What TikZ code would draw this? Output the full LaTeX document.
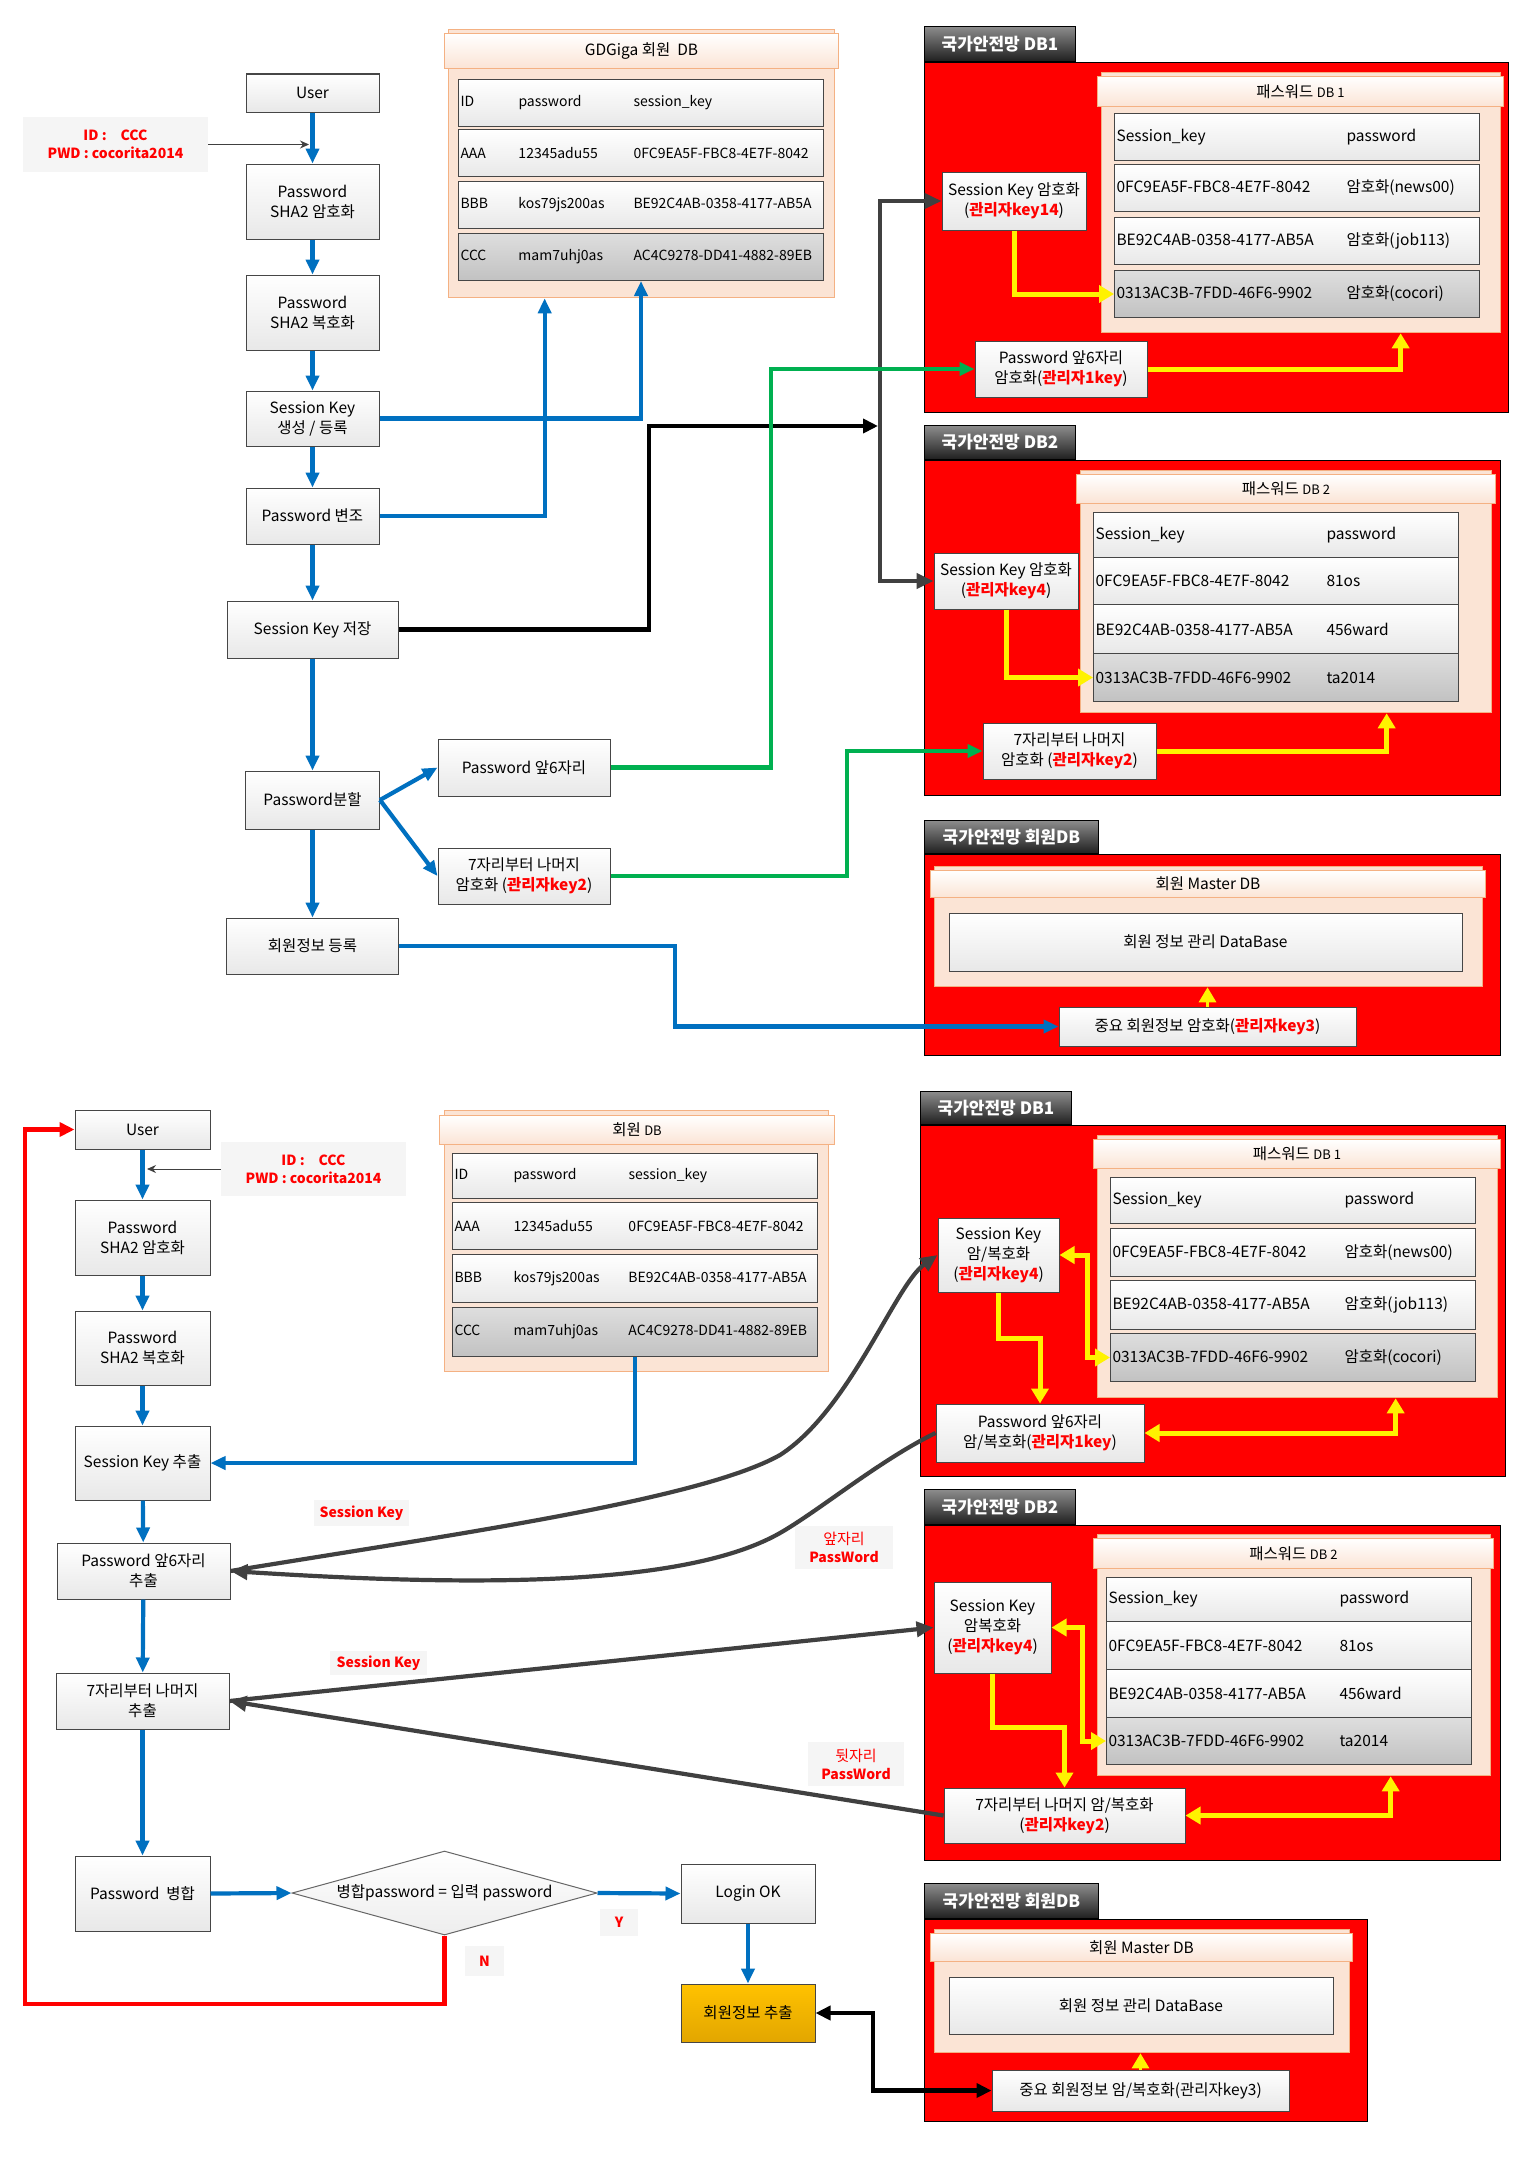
\documentclass[tikz,border=0pt]{standalone}
\usepackage{fontspec}
\setmainfont{Noto Sans CJK KR}
\usepackage{xcolor}
\usetikzlibrary{arrows.meta,shapes.geometric,positioning,calc}

\definecolor{flowblue}{RGB}{0,112,192}
\definecolor{flowgreen}{RGB}{0,176,80}
\definecolor{darkline}{RGB}{64,64,64}
\definecolor{boxline}{RGB}{70,70,70}
\definecolor{peach}{RGB}{251,228,213}
\definecolor{peachline}{RGB}{244,177,131}
\definecolor{goldtop}{RGB}{255,194,0}
\definecolor{goldbot}{RGB}{226,166,0}

\newcommand{\adm}[1]{{\color{red}\bfseries #1}}

\begin{document}
\begin{tikzpicture}[x=1pt, y=-1pt,
    every node/.style={font=\fontsize{15.5}{20}\selectfont, inner sep=2pt},
    flow/.style={draw=boxline, line width=1pt, top color=white, bottom color=black!9, align=center},
    row/.style={flow, anchor=north west, align=left},
    grayrow/.style={row, top color=black!13, bottom color=black!24},
    smallrow/.style={font=\fontsize{14}{18}\selectfont},
    dbbody/.style={draw=peachline, line width=1.3pt, fill=peach, anchor=north west},
    dbhead/.style={draw=peachline, line width=1pt, top color=white, bottom color=peach, anchor=north west},
    redbox/.style={draw=black, line width=1.3pt, fill=red, anchor=north west},
    tab/.style={draw=black, line width=1pt, top color=black!45, bottom color=black!88, text=white,
        font=\fontsize{17}{20}\selectfont\bfseries, anchor=south west},
    note/.style={fill=black!4, text=red, font=\fontsize{14}{18}\selectfont\bfseries, align=center},
    cmpbox/.style={diamond, draw=black!60, line width=1pt, top color=white, bottom color=black!7,
        aspect=3.6, inner sep=1pt},
    bluearrow/.style={draw=flowblue, line width=4.2pt, >={Triangle[length=15pt,width=13pt]}},
    greenarrow/.style={draw=flowgreen, line width=4.2pt, >={Triangle[length=15pt,width=13pt]}},
    yellowarrow/.style={draw=yellow, line width=5pt, >={Triangle[length=15pt,width=17pt]}},
    blackarrow/.style={draw=black, line width=4.5pt, >={Triangle[length=15pt,width=14pt]}},
    grayarrow/.style={draw=darkline, line width=4.2pt, >={Triangle[length=17pt,width=15pt]}},
    redarrow/.style={draw=red, line width=4.5pt, >={Triangle[length=15pt,width=14pt]}},
    thinarrow/.style={draw=darkline, line width=1pt, >={Stealth[length=9pt,width=8pt]}}
]
    \fill[white] (0,0) rectangle (1534,2157);
    \useasboundingbox (0,0) rectangle (1534,2157);

    % ---------- upper flow ----------
    \node[flow, minimum width=133, minimum height=38] (user1) at (312.5,93) {User};
    \node[note, minimum width=185, minimum height=55] (id1) at (115.5,144.5) {ID :\hspace{14pt}CCC\\PWD : cocorita2014};
    \node[flow, minimum width=133, minimum height=75] (enc1) at (312.5,201.5) {Password\\SHA2 암호화};
    \node[flow, minimum width=133, minimum height=75] (dec1) at (312.5,312.5) {Password\\SHA2 복호화};
    \node[flow, minimum width=133, minimum height=55] (skgen) at (312.5,418.5) {Session Key\\생성 / 등록};
    \node[flow, minimum width=133, minimum height=56] (pwmod) at (312.5,516) {Password 변조};
    \node[flow, minimum width=171, minimum height=57] (sksave) at (312.5,629.5) {Session Key 저장};
    \node[flow, minimum width=134, minimum height=58] (pwsplit) at (312.5,800) {Password분할};
    \node[flow, minimum width=172, minimum height=57] (pwfront) at (524,767.5) {Password 앞6자리};
    \node[flow, minimum width=172, minimum height=56] (pwrest) at (524,876) {7자리부터 나머지\\암호화 (\adm{관리자key2})};
    \node[flow, minimum width=172, minimum height=56] (memreg) at (312.5,946) {회원정보 등록};

    % GDGiga member DB
    \node[dbbody, minimum width=386, minimum height=268] (gdb) at (448,29) {};
    \node[dbhead, minimum width=394, minimum height=35] (gdbh) at (444,33) {GDGiga 회원\ \ DB};
    \foreach \n/\t/\st/\a/\b/\c in {1/79/row/ID/password/session\_key,
        2/129/row/AAA/12345adu55/0FC9EA5F-FBC8-4E7F-8042,
        3/181/row/BBB/kos79js200as/BE92C4AB-0358-4177-AB5A,
        4/233/grayrow/CCC/mam7uhj0as/AC4C9278-DD41-4882-89EB}
        \node[\st, smallrow, minimum width=365, minimum height=47, text width=361] (g\n) at (458,\t)
            {\makebox[58pt][l]{\a}\makebox[115pt][l]{\b}\mbox{\c}};

    % DB1 (upper)
    \node[redbox, minimum width=584, minimum height=350] (net1) at (924,62) {};
    \node[tab, minimum width=151, minimum height=35] (net1t) at (924,62) {국가안전망 DB1};
    \node[dbbody, minimum width=399, minimum height=260] (pdb1) at (1101,72) {};
    \node[dbhead, minimum width=406, minimum height=30] (pdb1h) at (1097,76) {패스워드 {\fontsize{13}{15}\selectfont DB 1}};
    \foreach \n/\t/\st/\a/\b in {1/113/row/Session\_key/password,
        2/164/row/0FC9EA5F-FBC8-4E7F-8042/암호화(news00),
        3/217/row/BE92C4AB-0358-4177-AB5A/암호화(job113),
        4/270/grayrow/0313AC3B-7FDD-46F6-9902/암호화(cocori)}
        \node[\st, minimum width=365, minimum height=47, text width=361] (p1r\n) at (1114,\t)
            {\makebox[230pt][l]{\a}\b};
    \node[flow, minimum width=144, minimum height=58] (skenc1) at (1014,201) {Session Key 암호화\\(\adm{관리자key14})};
    \node[flow, minimum width=172, minimum height=56] (pwenc1) at (1061,369) {Password 앞6자리\\암호화(\adm{관리자1key})};

    % DB2 (upper)
    \node[redbox, minimum width=576, minimum height=335] (net2) at (924,460) {};
    \node[tab, minimum width=151, minimum height=34] (net2t) at (924,460) {국가안전망 DB2};
    \node[dbbody, minimum width=411, minimum height=242] (pdb2) at (1080,470) {};
    \node[dbhead, minimum width=419, minimum height=29] (pdb2h) at (1076,474) {패스워드 {\fontsize{13}{15}\selectfont DB 2}};
    \foreach \n/\t/\h/\st/\a/\b in {1/512/45/row/Session\_key/password,
        2/557/47/row/0FC9EA5F-FBC8-4E7F-8042/81os,
        3/604/49/row/BE92C4AB-0358-4177-AB5A/456ward,
        4/653/48/grayrow/0313AC3B-7FDD-46F6-9902/ta2014}
        \node[\st, minimum width=365, minimum height=\h, text width=361] (p2r\n) at (1093,\t)
            {\makebox[231pt][l]{\a}\b};
    \node[flow, minimum width=144, minimum height=56] (skenc2) at (1006,581) {Session Key 암호화\\(\adm{관리자key4})};
    \node[flow, minimum width=173, minimum height=56] (pwenc2) at (1069.5,751) {7자리부터 나머지\\암호화 (\adm{관리자key2})};

    % member DB (upper)
    \node[redbox, minimum width=576, minimum height=201] (net3) at (924,854) {};
    \node[tab, minimum width=174, minimum height=33] (net3t) at (924,854) {국가안전망 회원DB};
    \node[dbbody, minimum width=548, minimum height=120] (mdb1) at (934,866) {};
    \node[dbhead, minimum width=555, minimum height=27] (mdb1h) at (930,870) {회원 Master DB};
    \node[flow, minimum width=513, minimum height=58] (mdata1) at (1205.5,942) {회원 정보 관리 DataBase};
    \node[flow, minimum width=297, minimum height=39] (key3a) at (1207.5,1026.5) {중요 회원정보 암호화(\adm{관리자key3})};

    % upper connectors
    \foreach \a/\b in {user1/enc1, enc1/dec1, dec1/skgen, skgen/pwmod, pwmod/sksave, sksave/pwsplit, pwsplit/memreg}
        \draw[bluearrow,->] (\a) -- (\b);
    \coordinate (in1) at (309,144.5);
    \draw[thinarrow,->] (id1.east) -- (in1);
    \draw[bluearrow,->] (skgen.east) -| (g4.south);
    \draw[bluearrow,->] (pwmod.east) -| ([xshift=-97pt]gdb.south);
    \draw[bluearrow,->] (pwsplit.east) -- (pwfront.west);
    \draw[bluearrow,->] (pwsplit.east) -- (pwrest.west);
    \draw[bluearrow,->] (memreg.east) -- (675,946) |- (key3a.west);
    \coordinate (brk) at (878,426);
    \draw[grayarrow,<->] (skenc1.west) -| (880,400) |- (skenc2.west);
    \draw[blackarrow,->] (sksave.east) -- (649,629.5) |- (brk);
    \draw[greenarrow,->] (pwfront.east) -- (771,767.5) |- (pwenc1.west);
    \draw[greenarrow,->] (pwrest.east) -- (847,876) |- (pwenc2.west);
    \draw[yellowarrow,->] (skenc1.south) |- (p1r4.west);
    \draw[yellowarrow,->] (pwenc1.east) -| ([xshift=99.5pt]pdb1.south);
    \draw[yellowarrow,->] (skenc2.south) |- (p2r4.west);
    \draw[yellowarrow,->] (pwenc2.east) -| ([xshift=100.5pt]pdb2.south);
    \draw[yellowarrow,->,line width=3pt] (key3a.north) -- (key3a.north |- mdb1.south);

    % ---------- lower flow ----------
    \node[flow, minimum width=135, minimum height=39] (user2) at (142.5,1129.5) {User};
    \node[note, minimum width=185, minimum height=54] (id2) at (313.5,1169) {ID :\hspace{14pt}CCC\\PWD : cocorita2014};
    \node[flow, minimum width=135, minimum height=75] (enc2) at (142.5,1237.5) {Password\\SHA2 암호화};
    \node[flow, minimum width=135, minimum height=74] (dec2) at (142.5,1348) {Password\\SHA2 복호화};
    \node[flow, minimum width=135, minimum height=74] (skext) at (142.5,1463) {Session Key 추출};
    \node[flow, minimum width=173, minimum height=56] (frontext) at (143.5,1571) {Password 앞6자리\\추출};
    \node[flow, minimum width=173, minimum height=56] (restext) at (142.5,1701) {7자리부터 나머지\\추출};
    \node[flow, minimum width=135, minimum height=75] (merge) at (142.5,1893.5) {Password\ \ 병합};
    \node[cmpbox, minimum width=305, minimum height=84] (cmp) at (444.5,1893) {병합password = 입력 password};
    \node[flow, minimum width=134, minimum height=59] (login) at (748,1893.5) {Login OK};
    \node[flow, top color=goldtop, bottom color=goldbot, minimum width=134, minimum height=58] (memext) at (748,2013) {회원정보 추출};
    \node[note, minimum width=38, minimum height=27] (yes) at (619,1922.5) {Y};
    \node[note, minimum width=39, minimum height=30] (no) at (484.5,1961) {N};
    \node[note, minimum width=95, minimum height=26] (sklab1) at (361.5,1513) {Session Key};
    \node[note, minimum width=98, minimum height=43] (frontlab) at (844,1547.5) {{\mdseries\fontsize{15}{18}\selectfont 앞자리}\\PassWord};
    \node[note, minimum width=97, minimum height=24] (sklab2) at (378.5,1663) {Session Key};
    \node[note, minimum width=96, minimum height=44] (restlab) at (856,1764) {{\mdseries\fontsize{15}{18}\selectfont 뒷자리}\\PassWord};

    % member DB (lower)
    \node[dbbody, minimum width=384, minimum height=261] (mdb) at (444,1110) {};
    \node[dbhead, minimum width=395, minimum height=29] (mdbh) at (439,1115) {회원 {\fontsize{13}{15}\selectfont DB}};
    \foreach \n/\t/\h/\st/\a/\b/\c in {1/1153/45/row/ID/password/session\_key,
        2/1202/47/row/AAA/12345adu55/0FC9EA5F-FBC8-4E7F-8042,
        3/1254/48/row/BBB/kos79js200as/BE92C4AB-0358-4177-AB5A,
        4/1307/49/grayrow/CCC/mam7uhj0as/AC4C9278-DD41-4882-89EB}
        \node[\st, smallrow, minimum width=365, minimum height=\h, text width=361] (m\n) at (452,\t)
            {\makebox[59pt][l]{\a}\makebox[115pt][l]{\b}\mbox{\c}};

    % DB1 (lower)
    \node[redbox, minimum width=585, minimum height=351] (net4) at (920,1125) {};
    \node[tab, minimum width=151, minimum height=33] (net4t) at (920,1125) {국가안전망 DB1};
    \node[dbbody, minimum width=400, minimum height=262] (pdb3) at (1097,1135) {};
    \node[dbhead, minimum width=407, minimum height=29] (pdb3h) at (1093,1139) {패스워드 {\fontsize{13}{15}\selectfont DB 1}};
    \foreach \n/\t/\h/\st/\a/\b in {1/1177/46/row/Session\_key/password,
        2/1228/48/row/0FC9EA5F-FBC8-4E7F-8042/암호화(news00),
        3/1280/49/row/BE92C4AB-0358-4177-AB5A/암호화(job113),
        4/1333/48/grayrow/0313AC3B-7FDD-46F6-9902/암호화(cocori)}
        \node[\st, minimum width=365, minimum height=\h, text width=361] (b1r\n) at (1110,\t)
            {\makebox[232pt][l]{\a}\b};
    \node[flow, minimum width=121, minimum height=74] (skcrypt1) at (998.5,1255) {Session Key\\암/복호화\\(\adm{관리자key4})};
    \node[flow, minimum width=208, minimum height=58] (pwcrypt1) at (1040,1433) {Password 앞6자리\\암/복호화(\adm{관리자1key})};

    % DB2 (lower)
    \node[redbox, minimum width=576, minimum height=335] (net5) at (924,1525) {};
    \node[tab, minimum width=151, minimum height=35] (net5t) at (924,1525) {국가안전망 DB2};
    \node[dbbody, minimum width=393, minimum height=241] (pdb4) at (1097,1534) {};
    \node[dbhead, minimum width=400, minimum height=30] (pdb4h) at (1093,1538) {패스워드 {\fontsize{13}{15}\selectfont DB 2}};
    \foreach \n/\t/\h/\st/\a/\b in {1/1577/44/row/Session\_key/password,
        2/1621/48/row/0FC9EA5F-FBC8-4E7F-8042/81os,
        3/1669/48/row/BE92C4AB-0358-4177-AB5A/456ward,
        4/1717/47/grayrow/0313AC3B-7FDD-46F6-9902/ta2014}
        \node[\st, minimum width=365, minimum height=\h, text width=361] (b2r\n) at (1106,\t)
            {\makebox[231pt][l]{\a}\b};
    \node[flow, minimum width=117, minimum height=91] (skcrypt2) at (992.5,1627.5) {Session Key\\암복호화\\(\adm{관리자key4})};
    \node[flow, minimum width=241, minimum height=55] (pwcrypt2) at (1064.5,1815.5) {7자리부터 나머지 암/복호화\\(\adm{관리자key2})};

    % member DB (lower)
    \node[redbox, minimum width=443, minimum height=202] (net6) at (924,1919) {};
    \node[tab, minimum width=174, minimum height=35] (net6t) at (924,1919) {국가안전망 회원DB};
    \node[dbbody, minimum width=415, minimum height=123] (mdb2) at (934,1929) {};
    \node[dbhead, minimum width=422, minimum height=28] (mdb2h) at (930,1933) {회원 Master DB};
    \node[flow, minimum width=384, minimum height=57] (mdata2) at (1141,2005.5) {회원 정보 관리 DataBase};
    \node[flow, minimum width=297, minimum height=41] (key3b) at (1140.5,2090.5) {중요 회원정보 암/복호화(관리자key3)};

    % lower connectors
    \foreach \a/\b in {user2/enc2, enc2/dec2, dec2/skext, skext/frontext, frontext/restext, restext/merge}
        \draw[bluearrow,->] (\a) -- (\b);
    \coordinate (in2) at (147,1169);
    \draw[thinarrow,->] (id2.west) -- (in2);
    \draw[bluearrow,->] (m4.south) |- (skext.east);
    \draw[bluearrow,->] (merge.east) -- (cmp.west);
    \draw[bluearrow,->] (cmp.east) -- (login.west);
    \draw[bluearrow,->] (login) -- (memext);
    \draw[redarrow,->] (cmp.south) |- (25,2004) |- (user2.west);
    \draw[blackarrow,<->] (key3b.west) -- (873,2090.5) |- (memext.east);
    \draw[yellowarrow,<->] (skcrypt1.east) -- (1087,1255) |- (b1r4.west);
    \draw[yellowarrow,->] (skcrypt1.south) |- (1040,1338) -- (pwcrypt1.north);
    \draw[yellowarrow,<->] (pwcrypt1.east) -| ([xshift=98pt]pdb3.south);
    \draw[yellowarrow,<->] (skcrypt2.east) -- (1082,1627.5) |- (b2r4.west);
    \draw[yellowarrow,->] (skcrypt2.south) |- (1064.5,1727) -- (pwcrypt2.north);
    \draw[yellowarrow,<->] (pwcrypt2.east) -| ([xshift=96.5pt]pdb4.south);
    \draw[yellowarrow,->,line width=3pt] (key3b.north) -- (key3b.north |- mdb2.south);
    \draw[grayarrow,->] (frontext.east) .. controls (450,1535) and (700,1500) .. (780,1455)
        .. controls (850,1410) and (895,1285) .. (skcrypt1.west);
    \draw[grayarrow,->] (pwcrypt1.west) .. controls (880,1460) and (820,1510) .. (780,1533)
        .. controls (680,1590) and (450,1585) .. (frontext.east);
    \draw[grayarrow,->] (restext.east) -- (skcrypt2.west);
    \draw[grayarrow,->] (pwcrypt2.west) -- (restext.east);
\end{tikzpicture}
\end{document}
